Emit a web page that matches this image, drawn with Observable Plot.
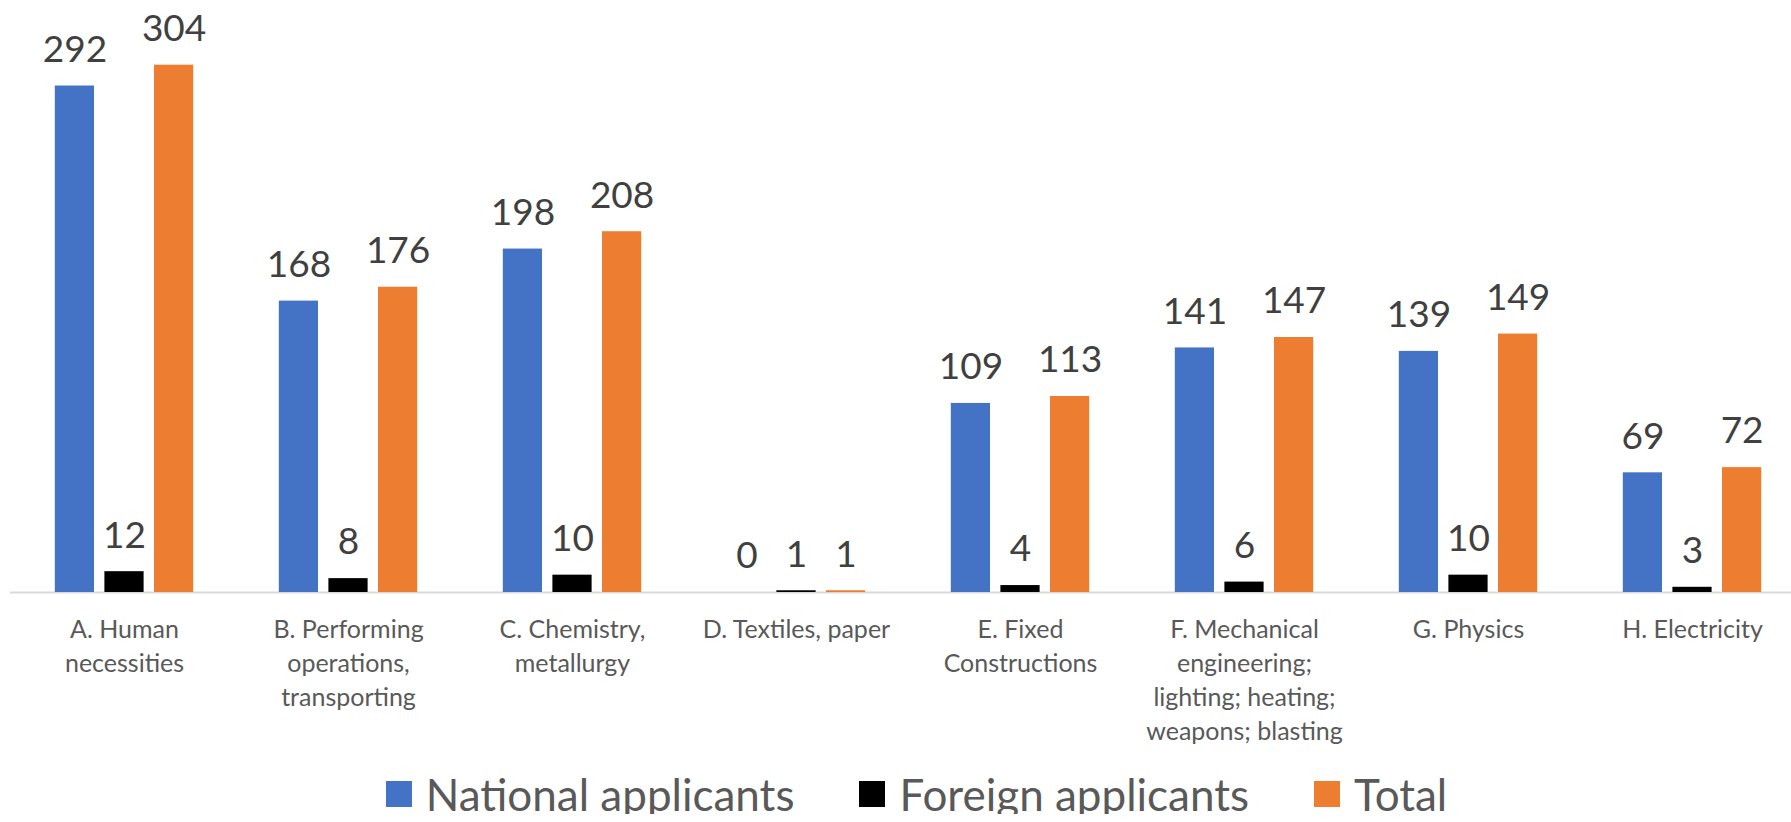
<!DOCTYPE html>
<html>
<head>
<meta charset="utf-8">
<script src="https://cdn.jsdelivr.net/npm/d3@7"></script>
<script src="https://cdn.jsdelivr.net/npm/@observablehq/plot@0.6"></script>
<style>
  html, body { margin: 0; padding: 0; background: #ffffff; }
  #chart { width: 1791px; height: 777px; }
  #chart svg { display: block; }
  .legend {
    display: flex; justify-content: center; align-items: center;
    height: 40px; line-height: 40px; margin-top: -3px;
    padding-left: 42px; box-sizing: border-box; width: 1791px;
    font-family: Lato, "Noto Sans", sans-serif; font-size: 44px; color: #595959;
  }
  .legend .item { display: flex; align-items: center; margin-right: 65px; }
  .legend .item:last-child { margin-right: 0; }
  .legend .swatch { width: 26px; height: 26px; margin-right: 14px; }
</style>
</head>
<body>
<div id="chart"></div>
<script>
// IPC sections (axis labels, wrapped onto lines)
const categories = [
  "A. Human\nnecessities",
  "B. Performing\noperations,\ntransporting",
  "C. Chemistry,\nmetallurgy",
  "D. Textiles, paper",
  "E. Fixed\nConstructions",
  "F. Mechanical\nengineering;\nlighting; heating;\nweapons; blasting",
  "G. Physics",
  "H. Electricity"
];

// Applications per section
const national = [292, 168, 198, 0, 109, 141, 139, 69];
const foreign  = [12, 8, 10, 1, 4, 6, 10, 3];
const total    = [304, 176, 208, 1, 113, 147, 149, 72];

const seriesNames  = ["National applicants", "Foreign applicants", "Total"];
const seriesColors = ["#4472C4", "#000000", "#ED7D31"];
const seriesValues = [national, foreign, total];

// Bar layout inside each category band
const offsets = [-49.6, 0, 49.6];
const barInset = 92.4;

const series = seriesNames.map((name, k) => ({
  name,
  color: seriesColors[k],
  offset: offsets[k],
  rows: categories.map((category, i) => ({category, value: seriesValues[k][i]}))
}));

const marks = [
  Plot.ruleY([0], {stroke: "#D9D9D9", strokeWidth: 2})
];
for (const s of series) {
  marks.push(
    Plot.barY(s.rows, {
      x: "category", y: "value", fill: s.color, dx: s.offset,
      insetLeft: barInset, insetRight: barInset
    }),
    Plot.text(s.rows, {
      x: "category", y: "value", text: d => String(d.value),
      dx: s.offset, dy: -36, fontSize: 37, fill: "#404040", lineAnchor: "middle"
    })
  );
}
marks.push(
  Plot.axisX({
    tickSize: 0, tickPadding: 22, fontSize: 25, fill: "#595959",
    lineHeight: 1.35, lineAnchor: "top", label: null
  })
);

const chart = Plot.plot({
  width: 1791,
  height: 777,
  marginLeft: 10,
  marginRight: 0,
  marginTop: 0,
  marginBottom: 185,
  style: {fontFamily: "Lato, 'Noto Sans', sans-serif", background: "#ffffff"},
  x: {domain: categories, range: [11.2, 1804.8], padding: 0, axis: null},
  y: {domain: [0, 341.3], axis: null},
  marks
});
document.getElementById("chart").appendChild(chart);

// Legend below the plot
const legend = document.createElement("div");
legend.className = "legend";
for (const s of series) {
  const item = document.createElement("div");
  item.className = "item";
  const sw = document.createElement("span");
  sw.className = "swatch";
  sw.style.background = s.color;
  const label = document.createElement("span");
  label.textContent = s.name;
  item.appendChild(sw);
  item.appendChild(label);
  legend.appendChild(item);
}
document.body.appendChild(legend);
</script>
</body>
</html>
